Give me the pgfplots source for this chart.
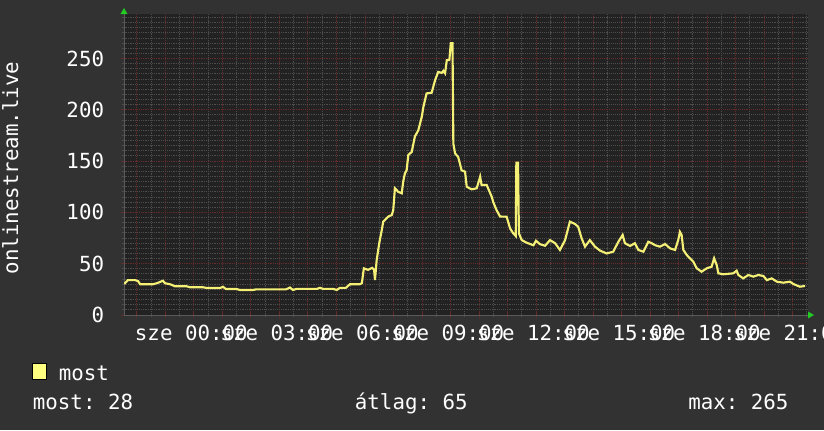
\documentclass[border=0pt]{standalone}
\usepackage{pgfplots}
\pgfplotsset{compat=1.18}
\usepackage{fontspec}
\setmainfont{DejaVu Sans Mono}
\usetikzlibrary{arrows.meta}
\definecolor{backc}{HTML}{323232}
\definecolor{canvasc}{HTML}{222222}
\definecolor{mgridc}{HTML}{662C2C}
\definecolor{gridc}{HTML}{4C4C4C}
\definecolor{axisc}{HTML}{5A5A5A}
\definecolor{linec}{HTML}{F4F076}
\definecolor{legc}{HTML}{FFFF80}
\definecolor{arrowc}{HTML}{22CC22}
\newcommand\fs{\fontsize{15.6pt}{18pt}\selectfont}
\begin{document}
\frenchspacing
\begin{tikzpicture}
\path[use as bounding box, fill=backc] (0,0) rectangle (618pt,322.5pt);
\clip (0,0) rectangle (618pt,322.5pt);
\begin{axis}[
  at={(93pt,86.25pt)}, anchor=south west,
  scale only axis, width=513pt, height=225.75pt,
  xmin=-2.456, xmax=21.544, ymin=0, ymax=293.4,
  axis background/.style={fill=canvasc},
  axis x line=bottom, axis y line=left,
  x axis line style={axisc, line width=0.75pt, shorten >=-4.5pt, -{Triangle[color=arrowc, fill=arrowc, length=4.5pt, width=5pt]}},
  y axis line style={axisc, line width=0.75pt, shorten >=-4.5pt, -{Triangle[color=arrowc, fill=arrowc, length=4.5pt, width=5pt]}},
  grid=both,
  major grid style={mgridc, densely dotted, line width=0.75pt},
  minor grid style={gridc, densely dotted, line width=0.75pt},
  xtick={-2,...,21},
  minor xtick={-2.5,-1.5,...,21.5},
  xticklabels={,,sze 00:00,,,sze 03:00,,,sze 06:00,,,sze 09:00,,,sze 12:00,,,sze 15:00,,,sze 18:00,,,sze 21:00},
  ytick={0,50,...,250},
  minor ytick={5,10,...,290},
  tick align=center, major tick length=4pt, minor tick length=3pt,
  major tick style={mgridc, line width=0.75pt},
  minor tick style={gridc, line width=0.75pt},
  /pgf/number format/assume math mode=true,
  ticklabel style={font=\fs, text=white},
  xticklabel style={anchor=base, inner sep=0pt, yshift=-17.25pt, xshift=-2pt},
  yticklabel style={anchor=east, inner sep=0pt, xshift=-12.75pt},
  legend image code/.code={\draw[fill=legc, draw=black, line width=0.6pt] (0pt,-4.3pt) rectangle (10.5pt,7.7pt);},
  legend style={at={(-0.1345,-0.192)}, anchor=west, draw=none, fill=none, inner sep=0pt, font=\fs, text=white, nodes={inner sep=0pt}, column sep=8.9pt},
]
\addplot[linec, line width=1.6pt] coordinates {
(-2.45,31) (-2.42,31) (-2.32,34) (-2.07,34) (-1.96,33) (-1.89,30) (-1.44,30) (-1.30,31) (-1.09,33.4) (-1.02,31) (-0.84,30) (-0.67,28) (-0.26,28) (-0.14,27) (0.32,27) (0.46,26.3) (0.91,26.3) (1.02,27.5) (1.12,25.3) (1.50,25.3) (1.61,24.4) (2.07,24.4) (2.18,25) (3.23,25) (3.37,26.8) (3.47,24.4) (3.61,25.5) (4.31,25.5) (4.42,26.5) (4.53,25.5) (4.88,25.5) (5.01,24.4) (5.12,26.5) (5.33,26.5) (5.47,30) (5.82,30) (5.89,31) (5.96,45.5) (6.11,44) (6.25,46) (6.32,44) (6.35,34) (6.41,53.6) (6.50,70) (6.59,83) (6.64,91) (6.82,96) (6.94,97.5) (6.99,102) (7.05,123.5) (7.17,120) (7.29,118.6) (7.34,130) (7.40,138) (7.46,141) (7.52,156) (7.64,159) (7.75,174) (7.87,180) (7.99,193) (8.05,203) (8.16,216) (8.34,216.7) (8.46,229) (8.57,237) (8.69,236) (8.75,238) (8.81,235.6) (8.87,248.5) (8.96,248.5) (9.01,265) (9.07,265) (9.10,167) (9.16,157.6) (9.27,154) (9.39,141) (9.51,139.7) (9.57,125) (9.74,122.5) (9.92,123.5) (10.04,134.8) (10.09,126.7) (10.27,126.7) (10.45,115) (10.50,110) (10.62,102) (10.74,96) (10.97,95.8) (11.09,84.5) (11.20,79.6) (11.29,77) (11.31,148.4) (11.37,148.4) (11.40,79.6) (11.50,73) (11.67,70.5) (11.91,68) (12.00,72.4) (12.14,69) (12.32,67.5) (12.49,73) (12.67,70) (12.84,63.4) (13.02,73) (13.19,91) (13.37,88.7) (13.48,86) (13.60,74.8) (13.72,66.6) (13.89,73) (14.07,66.6) (14.25,62.7) (14.48,60) (14.71,61.7) (14.89,71.4) (15.04,78) (15.12,70) (15.30,67.3) (15.47,70) (15.59,63.4) (15.77,61.7) (15.94,71.4) (16.06,70) (16.18,68) (16.35,66.6) (16.53,69.2) (16.70,65) (16.88,63.4) (16.99,73) (17.05,81) (17.11,78) (17.17,63.4) (17.29,58.5) (17.40,55.3) (17.52,52) (17.64,45.5) (17.81,42.2) (17.99,45.5) (18.16,47) (18.25,55.3) (18.34,48.7) (18.40,40.6) (18.57,39.7) (18.92,40.6) (19.04,43.2) (19.10,39) (19.27,35.7) (19.45,39) (19.63,37.4) (19.80,39) (19.98,38) (20.10,34) (20.27,35.7) (20.45,32.5) (20.68,31.5) (20.91,32.5) (21.03,30.2) (21.26,27.6) (21.44,28.3)
};
\addlegendentry{most}
\end{axis}
\node[rotate=90, anchor=base, font=\fs, text=white, inner sep=0pt] at (13.5pt,196.5pt) {onlinestream.live};
\node[anchor=base west, font=\fs, text=white, inner sep=0pt] at (24.5pt,15.75pt) {most: 28};
\node[anchor=base west, font=\fs, text=white, inner sep=0pt] at (266pt,15.75pt) {átlag: 65};
\node[anchor=base west, font=\fs, text=white, inner sep=0pt] at (516pt,15.75pt) {max: 265};
\end{tikzpicture}
\end{document}
